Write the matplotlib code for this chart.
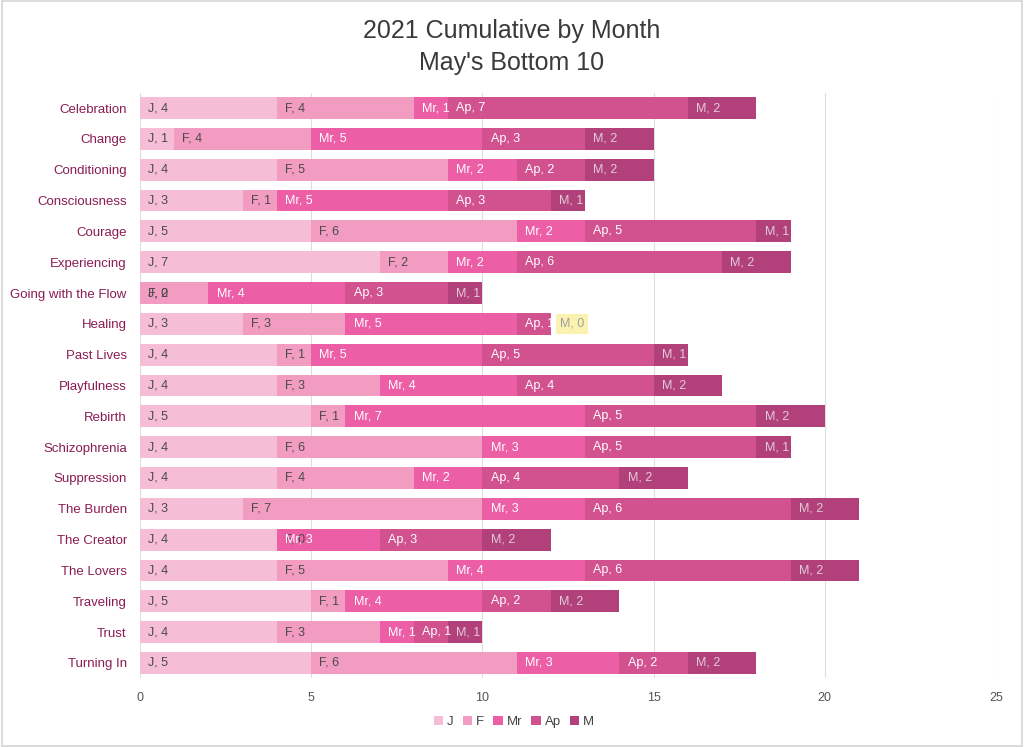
import matplotlib
matplotlib.use("Agg")
import matplotlib.pyplot as plt
from matplotlib.patches import Rectangle

plt.rcParams['font.family'] = ['Liberation Sans', 'DejaVu Sans']

categories = ["Celebration", "Change", "Conditioning", "Consciousness", "Courage",
              "Experiencing", "Going with the Flow", "Healing", "Past Lives",
              "Playfulness", "Rebirth", "Schizophrenia", "Suppression",
              "The Burden", "The Creator", "The Lovers", "Traveling", "Trust",
              "Turning In"]
series_names = ["J", "F", "Mr", "Ap", "M"]
J  = [4, 1, 4, 3, 5, 7, 0, 3, 4, 4, 5, 4, 4, 3, 4, 4, 5, 4, 5]
F  = [4, 4, 5, 1, 6, 2, 2, 3, 1, 3, 1, 6, 4, 7, 0, 5, 1, 3, 6]
Mr = [1, 5, 2, 5, 2, 2, 4, 5, 5, 4, 7, 3, 2, 3, 3, 4, 4, 1, 3]
Ap = [7, 3, 2, 3, 5, 6, 3, 1, 5, 4, 5, 5, 4, 6, 3, 6, 2, 1, 2]
M  = [2, 2, 2, 1, 1, 2, 1, 0, 1, 2, 2, 1, 2, 2, 2, 2, 2, 1, 2]
series = [J, F, Mr, Ap, M]

colors = ["#f5bdd6", "#f29cc2", "#ec5ea6", "#d25290", "#b2417b"]
label_colors = ["#4a4a4a", "#4a4a4a", "#ffffff", "#ffffff", "#e2cbd8"]

fig = plt.figure(figsize=(10.24, 7.47), dpi=100)
ax = fig.add_axes([140/1024, 1-678.4/747, (996-140)/1024, (678.4-92.6)/747])

y = list(range(len(categories)))
left = [0]*len(categories)
for s, (name, vals) in enumerate(zip(series_names, series)):
    ax.barh(y, vals, left=left, height=0.71, color=colors[s], label=name, zorder=2)
    for i, v in enumerate(vals):
        x0 = left[i]
        if v == 0 and s == len(series) - 1:
            ax.text(x0 + 0.27, i, f"{name}, {v}", va='center', ha='left',
                    fontsize=9, color="#a0a0a0", zorder=4,
                    bbox=dict(boxstyle='square,pad=0.3', fc='#fbf2b2', ec='none'))
        else:
            ax.text(x0 + 0.24, i, f"{name}, {v}", va='center', ha='left',
                    fontsize=9, color=label_colors[s], zorder=3)
    left = [a + b for a, b in zip(left, vals)]

ax.set_ylim(len(categories) - 0.5, -0.5)
ax.set_xlim(0, 25)
ax.set_xticks([0, 5, 10, 15, 20, 25])
ax.set_yticks(y)
ax.set_yticklabels(categories, fontsize=9.5, color="#8a1c54")
ax.tick_params(axis='x', labelsize=9, colors="#555555", length=0, pad=10)
ax.tick_params(axis='y', length=0, pad=9.5)
ax.grid(axis='x', color="#dedede", linewidth=0.8, zorder=0)
ax.set_axisbelow(True)
for sp in ax.spines.values():
    sp.set_visible(False)

fig.suptitle("2021 Cumulative by Month\nMay's Bottom 10", y=0.974, fontsize=18,
             color="#3a3a3a", linespacing=1.4)

leg = fig.legend(loc='center', bbox_to_anchor=(514/1024, 1-722/747), ncol=5, frameon=False,
                 fontsize=9.5, handlelength=0.7, handleheight=0.7, handletextpad=0.3,
                 columnspacing=0.7, labelcolor="#444444")

fig.patches.append(Rectangle((0.002, 0.002), 0.996, 0.996, transform=fig.transFigure,
                             fill=False, ec="#d5d5d5", lw=1.2))

fig.savefig("out.png", dpi=100)
